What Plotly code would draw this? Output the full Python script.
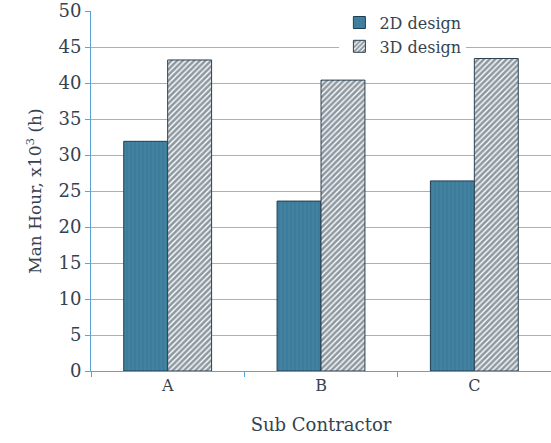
import plotly.graph_objects as go

categories = ["A", "B", "C"]
design_2d = [31.9, 23.6, 26.4]
design_3d = [43.2, 40.4, 43.4]
y_ticks = [0, 5, 10, 15, 20, 25, 30, 35, 40, 45, 50]

font_family = "DejaVu Serif"
text_color = "#34434f"
grid_color = "#7fbde3"
axis_color = "#5aa3d6"

fig = go.Figure()
fig.add_trace(go.Bar(
    x=categories, y=design_2d, name="2D design",
    marker=dict(
        color="#3e7c9b",
        line=dict(color="#1e3d52", width=1),
        pattern=dict(shape="|", fgcolor="#4d8cab", bgcolor="#3e7c9b", size=4, solidity=0.35),
    ),
))
fig.add_trace(go.Bar(
    x=categories, y=design_3d, name="3D design",
    marker=dict(
        color="#ffffff",
        line=dict(color="#2a4052", width=1),
        pattern=dict(shape="/", fgcolor="#1c3142", bgcolor="#ffffff", size=4, solidity=0.65),
    ),
))

fig.update_layout(
    width=551, height=443,
    margin=dict(l=91, r=0, t=11, b=72),
    paper_bgcolor="white", plot_bgcolor="white",
    barmode="group", bargap=0.427, bargroupgap=0,
    font=dict(family=font_family, color=text_color, size=16),
    showlegend=True,
    legend=dict(
        x=0.54, y=1.015, xanchor="left", yanchor="top",
        bgcolor="white", font=dict(size=16, family=font_family, color=text_color),
        tracegroupgap=0, itemwidth=30,
    ),
    xaxis=dict(
        range=[-0.5, 2.5], showline=True, linecolor=axis_color, linewidth=1,
        ticks="outside", tickson="boundaries", ticklen=5, tickcolor=axis_color,
        showgrid=False, automargin=False,
        title=dict(text="Sub Contractor", font=dict(size=18, family=font_family, color=text_color), standoff=24),
        tickfont=dict(size=16),
    ),
    yaxis=dict(
        range=[0, 50], tickvals=y_ticks, showline=True, linecolor=axis_color, linewidth=1,
        ticks="outside", ticklen=5, tickcolor=axis_color,
        showgrid=True, gridcolor=grid_color, gridwidth=1, zeroline=False, automargin=False,
        title=dict(text="Man Hour, x10<sup>3</sup> (h)", font=dict(size=17, family=font_family, color=text_color), standoff=12),
        tickfont=dict(size=18),
    ),
)

fig.write_html("out.html", config={"displayModeBar": False},
               post_script="document.body.style.margin='0';")
